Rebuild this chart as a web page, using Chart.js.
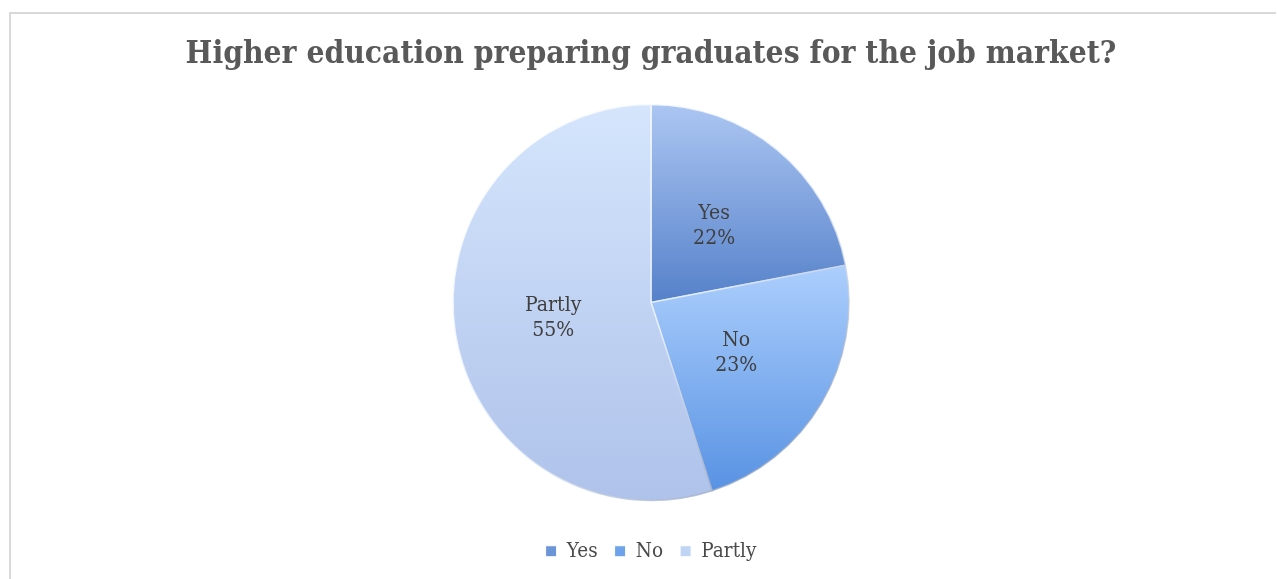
<!DOCTYPE html>
<html>
<head>
<meta charset="utf-8">
<title>Higher education preparing graduates for the job market?</title>
<script src="https://cdn.jsdelivr.net/npm/chart.js@4/dist/chart.umd.min.js"></script>
<style>
  html, body { margin: 0; padding: 0; background: #ffffff; }
  #wrap { position: relative; width: 1277px; height: 579px; overflow: hidden; }
  #frame {
    position: absolute; left: 9px; top: 12px; right: 1px; bottom: -10px;
    border-left: 2px solid #d9d9d9; border-top: 2px solid #d9d9d9;
    pointer-events: none;
  }
  canvas { position: absolute; left: 0; top: 0; }
</style>
</head>
<body>
<div id="wrap">
  <canvas id="chart" width="1277" height="579"></canvas>
  <div id="frame"></div>
</div>
<script>
// Survey answers
const categories = ['Yes', 'No', 'Partly'];
const shares = [22, 23, 55];

// Slice fills: vertical gradient stops [top colour, bottom colour, top fraction, bottom fraction of the pie height]
const sliceGradients = [
  ['#acc6f2', '#5581ca', 0.0, 0.5],
  ['#aacdfc', '#5590e2', 0.42, 1.0],
  ['#d4e5fc', '#afc2ea', 0.0, 1.0]
];
const legendSwatches = ['#6b95d6', '#6ea2ea', '#c0d4f4'];

const FONT_SERIF = '"DejaVu Serif Condensed", "DejaVu Serif", serif';

function pieBounds(chart) {
  const a = chart.chartArea;
  const r = 198;
  const cy = (a.top + a.bottom) / 2;
  return { top: cy - r, bottom: cy + r, cx: (a.left + a.right) / 2, cy, r };
}

function sliceFill(ctx) {
  const chart = ctx.chart;
  const g = sliceGradients[ctx.dataIndex];
  if (!chart.chartArea) return g[0];
  const b = pieBounds(chart);
  const h = b.bottom - b.top;
  const grad = chart.ctx.createLinearGradient(0, b.top + g[2] * h, 0, b.top + g[3] * h);
  grad.addColorStop(0, g[0]);
  grad.addColorStop(1, g[1]);
  return grad;
}

function sliceEdge(ctx) {
  const chart = ctx.chart;
  if (!chart.chartArea) return 'rgba(255,255,255,0.7)';
  const b = pieBounds(chart);
  const grad = chart.ctx.createLinearGradient(b.cx - b.r, b.top, b.cx + b.r * 0.6, b.bottom);
  grad.addColorStop(0, 'rgba(255,255,255,0.95)');
  grad.addColorStop(0.6, 'rgba(235,242,252,0.8)');
  grad.addColorStop(1, 'rgba(140,155,185,0.7)');
  return grad;
}

// Category name and percentage written inside each slice
const sliceLabels = {
  id: 'sliceLabels',
  afterDatasetsDraw(chart) {
    const meta = chart.getDatasetMeta(0);
    const data = chart.data.datasets[0].data;
    const total = data.reduce((s, v) => s + v, 0);
    const c = chart.ctx;
    c.save();
    c.font = '21px ' + FONT_SERIF;
    c.fillStyle = '#404040';
    c.textAlign = 'center';
    c.textBaseline = 'middle';
    meta.data.forEach((arc, i) => {
      const p = arc.getProps(['x', 'y', 'startAngle', 'endAngle', 'outerRadius'], true);
      const mid = (p.startAngle + p.endAngle) / 2;
      const d = p.outerRadius * 0.5;
      const x = p.x + Math.cos(mid) * d;
      const y = p.y + Math.sin(mid) * d;
      const pct = Math.round(data[i] / total * 100) + '%';
      c.fillText(chart.data.labels[i], x, y - 12.5);
      c.fillText(pct, x, y + 12.5);
    });
    c.restore();
  }
};

new Chart(document.getElementById('chart'), {
  type: 'pie',
  data: {
    labels: categories,
    datasets: [{
      data: shares,
      backgroundColor: sliceFill,
      borderColor: sliceEdge,
      borderWidth: 1.5,
      radius: 198
    }]
  },
  options: {
    responsive: false,
    animation: false,
    layout: { padding: { left: 25, right: 0, top: 0, bottom: 7.5 } },
    plugins: {
      tooltip: { enabled: false },
      title: {
        display: true,
        text: 'Higher education preparing graduates for the job market?',
        color: '#595959',
        font: { family: FONT_SERIF, size: 31.5, weight: 'bold' },
        padding: { top: 36, bottom: 7 }
      },
      legend: {
        position: 'bottom',
        labels: {
          color: '#4a4a4a',
          font: { family: FONT_SERIF, size: 20.5 },
          boxWidth: 11,
          boxHeight: 11,
          padding: 17,
          generateLabels(chart) {
            return chart.data.labels.map((t, i) => ({
              text: t,
              fillStyle: legendSwatches[i],
              strokeStyle: '#ffffff',
              lineWidth: 1,
              fontColor: '#4a4a4a',
              index: i
            }));
          }
        }
      }
    }
  },
  plugins: [sliceLabels]
});
</script>
</body>
</html>
